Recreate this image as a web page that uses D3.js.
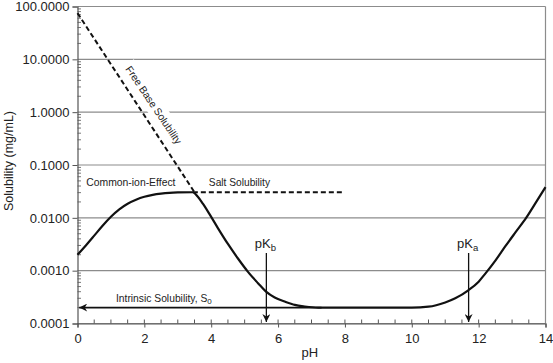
<!DOCTYPE html>
<html>
<head>
<meta charset="utf-8">
<script src="https://cdn.jsdelivr.net/npm/d3@7/dist/d3.min.js"></script>
<style>
  html, body { margin: 0; padding: 0; background: #fff; }
  svg { display: block; }
  text { font-family: "Liberation Sans", Arial, Helvetica, sans-serif; fill: #222; }
</style>
</head>
<body>
<svg id="chart" width="553" height="363" font-family="Liberation Sans, Arial, sans-serif"></svg>
<script>
// ---- data ----
const yTicks = [0.0001, 0.001, 0.01, 0.1, 1, 10, 100];
const yTickLabels = ["0.0001", "0.0010", "0.0100", "0.1000", "1.0000", "10.0000", "100.0000"];
const xTicks = [0, 2, 4, 6, 8, 10, 12, 14];
const xTickLabels = ["0", "2", "4", "6", "8", "10", "12", "14"];

// total solubility curve (pH, mg/mL)
const solubilityPH = [0, 0.25, 0.5, 0.75, 1.0, 1.25, 1.5, 1.75, 2.0, 2.25, 2.5, 2.75, 3.0, 3.45,
                      3.6, 3.75, 3.94, 4.2, 4.5, 4.8, 5.1, 5.4, 5.64, 5.9, 6.2, 6.5, 6.8, 7.2,
                      10, 10.5, 11, 11.3, 11.7, 12.0, 12.2, 12.5, 12.8, 13.1, 13.43, 13.7, 14];
const solubilityS  = [0.002, 0.003, 0.0046, 0.0071, 0.0105, 0.0145, 0.0185, 0.022, 0.025, 0.0272, 0.0287, 0.0297, 0.0302, 0.0305,
                      0.025, 0.0185, 0.012, 0.0064, 0.0032, 0.0017, 0.00095, 0.00058, 0.0004, 0.00031, 0.00026, 0.000225, 0.00021, 0.0002,
                      0.0002, 0.000208, 0.00025, 0.0003, 0.00043, 0.00062, 0.00088, 0.00155, 0.0029, 0.0053, 0.0102, 0.019, 0.038];

// free base solubility (dashed)
const freeBasePH = [0, 3.5];
const freeBaseS  = [75, 0.0305];

// salt solubility (dashed)
const saltPH = [3.45, 7.95];
const saltS  = [0.0305, 0.0305];

// intrinsic solubility
const intrinsicS0 = 0.0002;
const intrinsicPH = [7.3, 0.05];

const pKb = 5.65;
const pKa = 11.7;

// ---- layout ----
const FONT = '"Liberation Sans", Arial, Helvetica, sans-serif';
const svg = d3.select("#chart");
const x = d3.scaleLinear().domain([0, 14]).range([77.5, 545.5]);
const y = d3.scaleLog().domain([0.0001, 100]).range([323.5, 6.5]);

const gridColor = "#8c8c8c";
const axisColor = "#555";

// gridlines
svg.append("g").selectAll("line").data(yTicks).join("line")
  .attr("x1", x(0)).attr("x2", x(14))
  .attr("y1", d => y(d)).attr("y2", d => y(d))
  .attr("stroke", gridColor).attr("stroke-width", 1.2);

// right border
svg.append("line")
  .attr("x1", x(14)).attr("x2", x(14)).attr("y1", y(100)).attr("y2", y(0.0001))
  .attr("stroke", gridColor).attr("stroke-width", 1.2);

// Y axis: major ticks outside, minor ticks inside
const yAxis = d3.axisLeft(y).tickValues(yTicks).tickFormat((d, i) => yTickLabels[i]).tickSize(5).tickPadding(3);
const gy = svg.append("g").attr("transform", `translate(${x(0)},0)`).call(yAxis)
  .attr("font-family", FONT).attr("font-size", 13);
gy.select(".domain").attr("stroke", axisColor).attr("stroke-width", 1.2);
gy.selectAll(".tick line").attr("stroke", axisColor);
gy.selectAll(".tick text").attr("font-size", 13).attr("fill", "#222").attr("font-family", FONT);

// keep the widest y label ("100.0000") about 55px wide, as in the reference
(function fitYLabels() {
  let maxW = 0;
  gy.selectAll(".tick text").each(function () { maxW = Math.max(maxW, this.getComputedTextLength()); });
  if (maxW > 0 && Math.abs(maxW - 55) > 1.5) {
    const fs = 13 * 55 / maxW;
    gy.selectAll(".tick text").attr("font-size", fs);
  }
})();

const minorY = [];
for (let e = -4; e < 2; e++) for (let m = 2; m <= 9; m++) minorY.push(m * Math.pow(10, e));
svg.append("g").selectAll("line").data(minorY).join("line")
  .attr("x1", x(0)).attr("x2", x(0) + 3.5)
  .attr("y1", d => y(d)).attr("y2", d => y(d))
  .attr("stroke", axisColor).attr("stroke-width", 0.8);

// X axis
const xAxis = d3.axisBottom(x).tickValues(xTicks).tickFormat((d, i) => xTickLabels[i]).tickSize(4).tickPadding(6);
const gx = svg.append("g").attr("transform", `translate(0,${y(0.0001)})`).call(xAxis)
  .attr("font-family", FONT).attr("font-size", 13);
gx.select(".domain").attr("stroke", axisColor).attr("stroke-width", 1.2);
gx.selectAll(".tick line").attr("stroke", axisColor);
gx.selectAll(".tick text").attr("font-size", 13).attr("fill", "#222").attr("font-family", FONT);

const minorX = d3.range(0.5, 14, 0.5);
svg.append("g").selectAll("line").data(minorX).join("line")
  .attr("x1", d => x(d)).attr("x2", d => x(d))
  .attr("y1", y(0.0001)).attr("y2", y(0.0001) - 4)
  .attr("stroke", axisColor).attr("stroke-width", 1);

// axis titles
svg.append("text")
  .attr("transform", `translate(13,${(y(0.0001) + y(100)) / 2 - 4}) rotate(-90)`)
  .attr("text-anchor", "middle").attr("font-size", 12.5)
  .text("Solubility (mg/mL)");
svg.append("text")
  .attr("x", x(6.95)).attr("y", 357)
  .attr("text-anchor", "middle").attr("font-size", 13)
  .text("pH");

// "Free Base Solubility" label with white background
const fbX = x(2.28), fbY = y(1.37), fbAngle = 56;
const fbG = svg.append("g").attr("transform", `translate(${fbX},${fbY}) rotate(${fbAngle})`);
fbG.append("rect").attr("x", -49).attr("y", -9).attr("width", 98).attr("height", 18).attr("fill", "#fff");

// curves
const smooth = d3.line().x(d => x(d[0])).y(d => y(d[1])).curve(d3.curveMonotoneX);
svg.append("path")
  .attr("d", smooth(d3.zip(solubilityPH, solubilityS)))
  .attr("fill", "none").attr("stroke", "#111").attr("stroke-width", 2.2)
  .attr("stroke-linejoin", "round");

const straight = d3.line().x(d => x(d[0])).y(d => y(d[1]));
svg.append("path")
  .attr("d", straight(d3.zip(freeBasePH, freeBaseS)))
  .attr("fill", "none").attr("stroke", "#111").attr("stroke-width", 2)
  .attr("stroke-dasharray", "5,3");
svg.append("path")
  .attr("d", straight(d3.zip(saltPH, saltS)))
  .attr("fill", "none").attr("stroke", "#111").attr("stroke-width", 2)
  .attr("stroke-dasharray", "5,3");

// arrowhead marker
const defs = svg.append("defs");
defs.append("marker").attr("id", "arrow")
  .attr("viewBox", "0 0 10 10").attr("refX", 10).attr("refY", 5)
  .attr("markerUnits", "userSpaceOnUse")
  .attr("markerWidth", 9).attr("markerHeight", 8).attr("orient", "auto")
  .append("path").attr("d", "M0,0 L10,5 L0,10 L3,5 Z").attr("fill", "#111");

// intrinsic solubility arrow
svg.append("line")
  .attr("x1", x(intrinsicPH[0])).attr("x2", x(intrinsicPH[1]))
  .attr("y1", y(intrinsicS0)).attr("y2", y(intrinsicS0))
  .attr("stroke", "#111").attr("stroke-width", 1.6)
  .attr("marker-end", "url(#arrow)");

// pKb / pKa arrows
[[pKb, "b"], [pKa, "a"]].forEach(([v, sub]) => {
  svg.append("line")
    .attr("x1", x(v)).attr("x2", x(v))
    .attr("y1", 253).attr("y2", y(0.0001) - 1.5)
    .attr("stroke", "#111").attr("stroke-width", 1.3)
    .attr("marker-end", "url(#arrow)");
  const t = svg.append("text").attr("x", x(v) - 1).attr("y", 248)
    .attr("text-anchor", "middle").attr("font-size", 13);
  t.append("tspan").text("pK");
  t.append("tspan").attr("font-size", 9.5).attr("dy", 3).text(sub);
});

// labels
fbG.append("text").attr("text-anchor", "middle").attr("dy", "0.35em")
  .attr("font-size", 10.3).text("Free Base Solubility");

svg.append("text").attr("x", x(0.26)).attr("y", 186)
  .attr("font-size", 10.4).text("Common-ion-Effect");
svg.append("text").attr("x", x(3.93)).attr("y", 186)
  .attr("font-size", 10.2).text("Salt Solubility");

const it = svg.append("text").attr("x", x(1.15)).attr("y", 301.5).attr("font-size", 10.3);
it.append("tspan").text("Intrinsic Solubility, S");
it.append("tspan").attr("font-size", 8).attr("dy", 2).text("0");
</script>
</body>
</html>
